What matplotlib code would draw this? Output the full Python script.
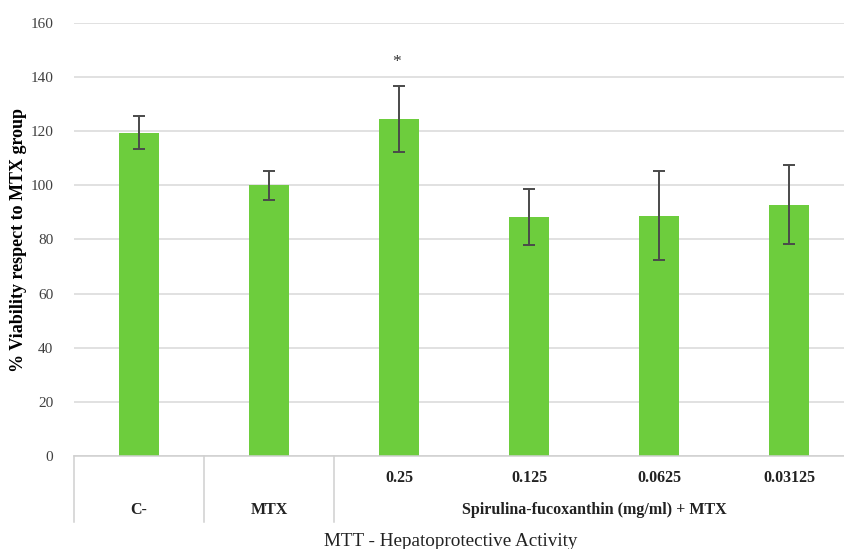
import matplotlib.pyplot as plt
import matplotlib.transforms as mtransforms
import numpy as np

# MTT viability, % relative to the MTX group
groups = ["C-", "MTX", "0.25", "0.125", "0.0625", "0.03125"]
viability = [119.5, 100.0, 124.6, 88.2, 88.8, 92.9]
sd = [6.2, 5.4, 12.1, 10.3, 16.4, 14.5]
significant = [False, False, True, False, False, False]

# second tier of the category axis: (label, first index, last index)
tiers = [("C-", 0, 0), ("MTX", 1, 1), ("Spirulina-fucoxanthin (mg/ml) + MTX", 2, 5)]

W, H = 845, 549
plt.rcParams["font.family"] = ["Liberation Serif", "DejaVu Serif"]

fig = plt.figure(figsize=(W / 100, H / 100), dpi=100)
ax = fig.add_axes([74 / W, 1 - 456 / H, 780 / W, 433 / H])

x = np.arange(len(groups))
ax.bar(x, viability, width=0.315, color="#6dcd3d", zorder=2)
ax.errorbar(x, viability, yerr=sd, fmt="none", ecolor="#4a4a4a",
            elinewidth=1.4, capsize=4, capthick=1.4, zorder=3)
for xi, v, e, s in zip(x, viability, sd, significant):
    if s:
        ax.text(xi - 0.02, v + e + 9, "*", ha="center", va="center",
                fontsize=12.5, color="#333333")

ax.set_xlim(-0.5, len(groups) - 0.5)
ax.set_ylim(0, 160)
ax.set_yticks(range(0, 161, 20))
ax.yaxis.grid(True, color="#d9d9d9", linewidth=1.1, zorder=0)
ax.set_axisbelow(True)
for side in ["top", "right", "left"]:
    ax.spines[side].set_visible(False)
ax.spines["bottom"].set_color("#d0d0d0")
ax.spines["bottom"].set_linewidth(1.1)
ax.tick_params(axis="y", length=0, pad=15, labelsize=11, labelcolor="#404040")
ax.set_xticks([])

ax.set_ylabel("% Viability respect to MTX group", fontsize=13,
              fontweight="bold")
ax.yaxis.set_label_coords(-0.06, 0.5)

# two-tier category axis drawn below the plot
trans = mtransforms.blended_transform_factory(ax.transData, fig.transFigure)
fy = lambda py: 1 - py / H
for i in range(2, len(groups)):
    ax.text(x[i], fy(478), groups[i], transform=trans, ha="center", va="center",
            fontsize=11.5, fontweight="bold", color="#222222")
for label, a, b in tiers:
    ax.text((a + b) / 2, fy(510), label, transform=trans, ha="center",
            va="center", fontsize=11.5, fontweight="bold", color="#222222")
    ax.plot([a - 0.5, a - 0.5], [fy(456), fy(522)], transform=trans,
            color="#d0d0d0", linewidth=1.1, clip_on=False)

fig.text(451 / W, fy(541), "MTT - Hepatoprotective Activity", ha="center",
         va="center", fontsize=13.8, color="#222222")

fig.savefig("out.png", dpi=100, facecolor="white")
